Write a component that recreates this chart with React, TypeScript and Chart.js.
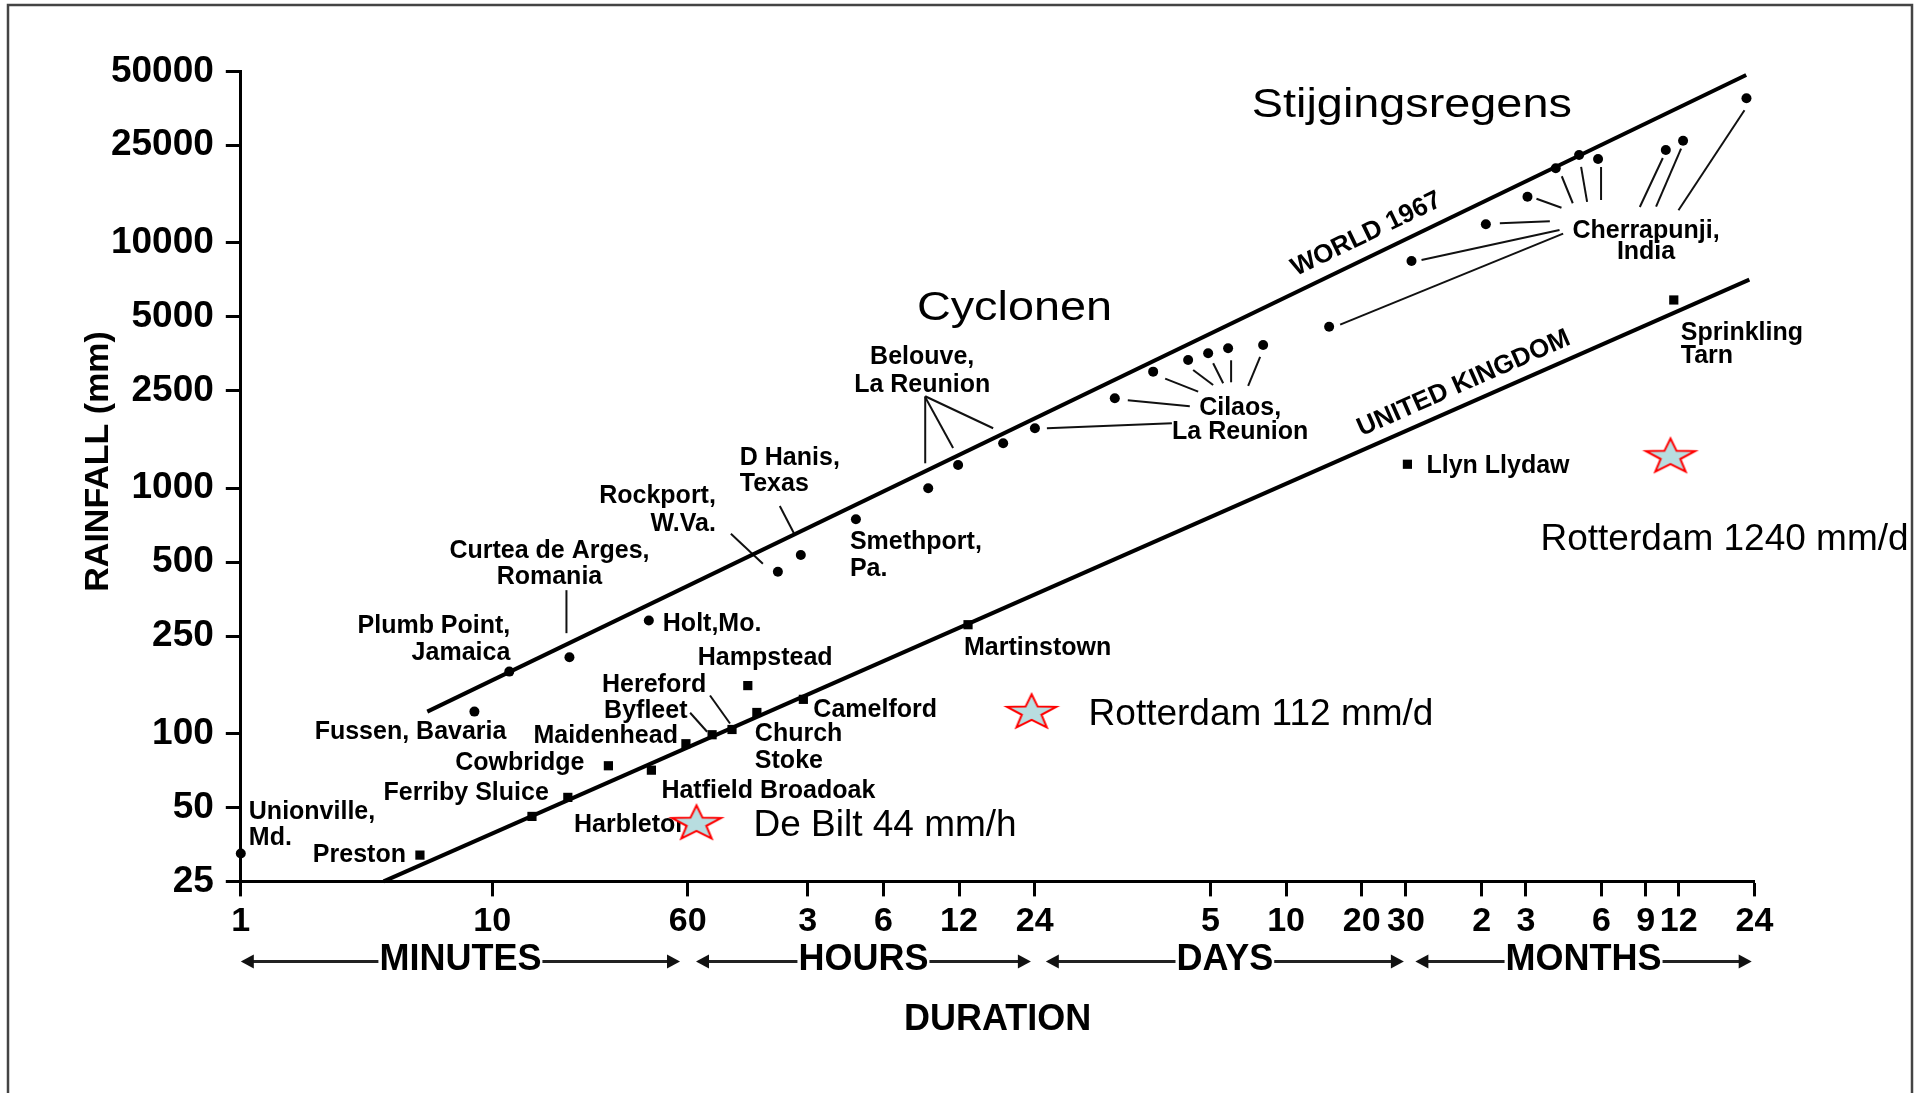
import React, { useEffect, useRef } from "react";
import { Chart, registerables } from "chart.js";

Chart.register(...registerables);

const FONT = "'Liberation Sans', Arial, Helvetica, sans-serif";

// ---------------- axis ticks ----------------
const xTickValues = [1, 10, 60, 180, 360, 720, 1440, 7200, 14400, 28800, 43200, 86400, 129600, 259200, 388800, 525600, 1051200];
const xTickLabels = ["1", "10", "60", "3", "6", "12", "24", "5", "10", "20", "30", "2", "3", "6", "9", "12", "24"];
const yTickValues = [25, 50, 100, 250, 500, 1000, 2500, 5000, 10000, 25000, 50000];
const yTickLabels = ["25", "50", "100", "250", "500", "1000", "2500", "5000", "10000", "25000", "50000"];

// ---------------- world record sites (duration in minutes, rainfall in mm) ----------------
const worldSite = [
  "Unionville, Md.", "Fussen, Bavaria", "Plumb Point, Jamaica", "Curtea de Arges, Romania", "Holt, Mo.",
  "Rockport, W.Va.", "D Hanis, Texas", "Smethport, Pa.",
  "Belouve", "Belouve", "Belouve",
  "Cilaos", "Cilaos", "Cilaos", "Cilaos", "Cilaos", "Cilaos", "Cilaos",
  "Cherrapunji", "Cherrapunji", "Cherrapunji", "Cherrapunji", "Cherrapunji",
  "Cherrapunji", "Cherrapunji", "Cherrapunji", "Cherrapunji", "Cherrapunji",
];
const worldDuration = [
  1, 8.5, 11.7, 20.3, 42, 137, 169, 280,
  543, 714, 1079,
  1443, 3000, 4263, 5873, 7055, 8470, 11675,
  21370, 45450, 89800, 131500, 170400, 211000, 251000, 466900, 546900, 977500,
];
const worldRainfall = [
  32.5, 123, 179, 205, 289, 457, 535, 748,
  1000, 1245, 1526,
  1756, 2327, 2988, 3334, 3551, 3720, 3838,
  4557, 8440, 11910, 15430, 20150, 22830, 21980, 23920, 26100, 38850,
];

// ---------------- UK record sites ----------------
const ukSite = [
  "Preston", "Harbleton", "Ferriby Sluice", "Cowbridge", "Hatfield Broadoak", "Maidenhead", "Byfleet",
  "Hereford", "Church Stoke", "Hampstead", "Camelford", "Martinstown", "Llyn Llydaw", "Sprinkling Tarn",
];
const ukDuration = [5.16, 14.4, 20, 29, 43, 59, 75, 90, 113, 104, 173, 782, 43780, 502300];
const ukRainfall = [32, 46, 55, 74, 71, 91, 99, 104, 122, 157, 138, 278, 1253, 5854];

// ---------------- envelope lines ----------------
const envelopeNames = ["WORLD 1967", "UNITED KINGDOM"];
const worldEnvelopeDuration = [5.52, 974900];
const worldEnvelopeRainfall = [123, 48340];
const ukEnvelopeDuration = [3.7, 1003700];
const ukEnvelopeRainfall = [25, 7088];
const envelopeLabelAt = [30040, 73380];

// ---------------- Dutch records (stars) ----------------
const dutchNames = ["De Bilt 44 mm/h", "Rotterdam 112 mm/d", "Rotterdam 1240 mm/d"];
const dutchDuration = [65, 1400, 487300];
const dutchRainfall = [43, 122, 1345];

// ---------------- regime annotations ----------------
const regimeNames = ["Cyclonen", "Stijgingsregens"];
const regimeDuration = [489.5, 10527];
const regimeRainfall = [4853, 32690];

// ---------------- duration bands ----------------
const bandNames = ["MINUTES", "HOURS", "DAYS", "MONTHS"];
const bandFrom = [1, 64.7, 1595, 47100];
const bandTo = [55.9, 1391, 42380, 1025600];

// ---------------- label layout (offsets in px from the anchor point) ----------------
type Series = "world" | "uk";
const siteLabels: { lines: string[]; s: Series; i: number; dx: number; dy: number; align: CanvasTextAlign; gap?: number }[] = [
  { lines: ["Unionville,", "Md."], s: "world", i: 0, dx: 8, dy: -41, align: "left", gap: 26 },
  { lines: ["Fussen, Bavaria"], s: "world", i: 1, dx: 32, dy: 21, align: "right" },
  { lines: ["Plumb Point,", "Jamaica"], s: "world", i: 2, dx: 1, dy: -46, align: "right", gap: 27 },
  { lines: ["Curtea de Arges,", "Romania"], s: "world", i: 3, dx: -20, dy: -106, align: "center", gap: 26 },
  { lines: ["Holt,Mo."], s: "world", i: 4, dx: 14, dy: 4, align: "left" },
  { lines: ["Rockport,", "W.Va."], s: "world", i: 5, dx: -62, dy: -76, align: "right", gap: 28 },
  { lines: ["D Hanis,", "Texas"], s: "world", i: 6, dx: -61, dy: -97, align: "left", gap: 26 },
  { lines: ["Smethport,", "Pa."], s: "world", i: 7, dx: -6, dy: 23, align: "left", gap: 27 },
  { lines: ["Belouve,", "La Reunion"], s: "world", i: 8, dx: -6, dy: -131, align: "center", gap: 28 },
  { lines: ["Cilaos,", "La Reunion"], s: "world", i: 14, dx: 52, dy: 48, align: "center", gap: 24 },
  { lines: ["Cherrapunji,", "India"], s: "world", i: 24, dx: 48, dy: 72, align: "center", gap: 21 },
  { lines: ["Preston"], s: "uk", i: 0, dx: -14, dy: 0, align: "right" },
  { lines: ["Harbleton"], s: "uk", i: 1, dx: 42, dy: 9, align: "left" },
  { lines: ["Ferriby Sluice"], s: "uk", i: 2, dx: -19, dy: -4, align: "right" },
  { lines: ["Cowbridge"], s: "uk", i: 3, dx: -24, dy: -3, align: "right" },
  { lines: ["Hatfield Broadoak"], s: "uk", i: 4, dx: 10, dy: 21, align: "left" },
  { lines: ["Maidenhead"], s: "uk", i: 5, dx: -8, dy: -8, align: "right" },
  { lines: ["Byfleet"], s: "uk", i: 6, dx: -108, dy: -24, align: "left" },
  { lines: ["Hereford"], s: "uk", i: 7, dx: -130, dy: -44, align: "left" },
  { lines: ["Church", "Stoke"], s: "uk", i: 8, dx: -2, dy: 22, align: "left", gap: 27 },
  { lines: ["Hampstead"], s: "uk", i: 9, dx: -50, dy: -27, align: "left" },
  { lines: ["Camelford"], s: "uk", i: 10, dx: 10, dy: 11, align: "left" },
  { lines: ["Martinstown"], s: "uk", i: 11, dx: -4, dy: 23, align: "left" },
  { lines: ["Llyn Llydaw"], s: "uk", i: 12, dx: 19, dy: 2, align: "left" },
  { lines: ["Sprinkling", "Tarn"], s: "uk", i: 13, dx: 7, dy: 33, align: "left", gap: 23 },
];

const leaders: { s: Series; i: number; x1: number; y1: number; x2: number; y2: number }[] = [
  { s: "world", i: 3, x1: -3, y1: -67, x2: -3, y2: -24 },
  { s: "world", i: 5, x1: -47, y1: -38, x2: -15, y2: -8 },
  { s: "world", i: 6, x1: -21, y1: -49, x2: -7, y2: -22 },
  { s: "world", i: 8, x1: -3, y1: -92, x2: -3, y2: -25 },
  { s: "world", i: 9, x1: -33, y1: -68, x2: -5, y2: -17 },
  { s: "world", i: 10, x1: -78, y1: -47, x2: -10, y2: -15 },
  { s: "world", i: 11, x1: 12, y1: 0, x2: 137, y2: -5 },
  { s: "world", i: 12, x1: 13, y1: 2, x2: 75, y2: 8 },
  { s: "world", i: 13, x1: 12, y1: 7, x2: 45, y2: 20 },
  { s: "world", i: 14, x1: 5, y1: 10, x2: 25, y2: 25 },
  { s: "world", i: 15, x1: 5, y1: 10, x2: 15, y2: 30 },
  { s: "world", i: 16, x1: 3, y1: 12, x2: 3, y2: 34 },
  { s: "world", i: 17, x1: -3, y1: 12, x2: -15, y2: 41 },
  { s: "world", i: 18, x1: 11, y1: -2, x2: 234, y2: -93 },
  { s: "world", i: 19, x1: 10, y1: -1, x2: 148, y2: -31 },
  { s: "world", i: 20, x1: 14, y1: -1, x2: 64, y2: -3 },
  { s: "world", i: 21, x1: 9, y1: 2, x2: 34, y2: 11 },
  { s: "world", i: 22, x1: 6, y1: 8, x2: 17, y2: 35 },
  { s: "world", i: 23, x1: 2, y1: 12, x2: 8, y2: 47 },
  { s: "world", i: 24, x1: 3, y1: 8, x2: 3, y2: 41 },
  { s: "world", i: 25, x1: -3, y1: 8, x2: -26, y2: 57 },
  { s: "world", i: 26, x1: -2, y1: 8, x2: -27, y2: 66 },
  { s: "world", i: 27, x1: -2, y1: 12, x2: -68, y2: 112 },
  { s: "uk", i: 6, x1: -22, y1: -22, x2: -5, y2: -3 },
  { s: "uk", i: 7, x1: -22, y1: -34, x2: -2, y2: -6 },
];

const dutchLabelOffset = [
  { dx: 57, dy: 12.6 },
  { dx: 57, dy: 12.7 },
  { dx: -130, dy: 93 },
];

function makeStar(): HTMLCanvasElement {
  const R = 18.3;
  const r = R * 0.4;
  const sx = 1.41;
  const lw = 2;
  const w = Math.ceil(2 * R * sx + 6);
  const h = Math.ceil(2 * R + 6);
  const c = document.createElement("canvas");
  c.width = w;
  c.height = h;
  const ctx = c.getContext("2d")!;
  ctx.translate(w / 2, h / 2);
  ctx.beginPath();
  for (let k = 0; k < 10; k++) {
    const rad = k % 2 === 0 ? R : r;
    const a = -Math.PI / 2 + (k * Math.PI) / 5;
    const px = rad * Math.cos(a) * sx;
    const py = rad * Math.sin(a);
    if (k === 0) ctx.moveTo(px, py);
    else ctx.lineTo(px, py);
  }
  ctx.closePath();
  ctx.fillStyle = "#b8dde0";
  ctx.fill();
  ctx.strokeStyle = "#ff0000";
  ctx.lineWidth = lw;
  ctx.lineJoin = "miter";
  ctx.stroke();
  return c;
}

function pointPx(chart: any, s: Series, i: number): [number, number] {
  const xs = s === "world" ? worldDuration : ukDuration;
  const ys = s === "world" ? worldRainfall : ukRainfall;
  return [chart.scales.x.getPixelForValue(xs[i]), chart.scales.y.getPixelForValue(ys[i])];
}

const annotationPlugin = {
  id: "rainfallAnnotations",
  beforeDraw(chart: any) {
    const ctx = chart.ctx;
    ctx.save();
    ctx.strokeStyle = "#444";
    ctx.lineWidth = 2.5;
    ctx.beginPath();
    ctx.moveTo(8, chart.height);
    ctx.lineTo(8, 5);
    ctx.lineTo(1912, 5);
    ctx.lineTo(1912, chart.height);
    ctx.stroke();
    ctx.restore();
  },
  beforeDatasetsDraw(chart: any) {
    const ctx = chart.ctx;
    ctx.save();
    ctx.strokeStyle = "#111";
    ctx.lineWidth = 2;
    leaders.forEach((l) => {
      const [px, py] = pointPx(chart, l.s, l.i);
      ctx.beginPath();
      ctx.moveTo(px + l.x1, py + l.y1);
      ctx.lineTo(px + l.x2, py + l.y2);
      ctx.stroke();
    });
    ctx.fillStyle = "#000";
    ctx.font = `bold 25px ${FONT}`;
    ctx.textBaseline = "middle";
    siteLabels.forEach((lab) => {
      const [px, py] = pointPx(chart, lab.s, lab.i);
      ctx.textAlign = lab.align;
      lab.lines.forEach((t, k) => ctx.fillText(t, px + lab.dx, py + lab.dy + k * (lab.gap || 26)));
    });
    ctx.restore();
  },
  afterDatasetsDraw(chart: any) {
    const ctx = chart.ctx;
    const xs = chart.scales.x;
    const ys = chart.scales.y;
    ctx.save();
    const env = [
      [worldEnvelopeDuration, worldEnvelopeRainfall],
      [ukEnvelopeDuration, ukEnvelopeRainfall],
    ];
    const lifts = [24, 22];
    ctx.font = `bold 26px ${FONT}`;
    ctx.fillStyle = "#000";
    ctx.textAlign = "center";
    ctx.textBaseline = "middle";
    env.forEach(([dx, dy], k) => {
      const x1 = xs.getPixelForValue(dx[0]);
      const y1 = ys.getPixelForValue(dy[0]);
      const x2 = xs.getPixelForValue(dx[1]);
      const y2 = ys.getPixelForValue(dy[1]);
      const px = xs.getPixelForValue(envelopeLabelAt[k]);
      const t = (px - x1) / (x2 - x1);
      const py = y1 + t * (y2 - y1);
      const ang = Math.atan2(y2 - y1, x2 - x1);
      ctx.save();
      ctx.translate(px, py - lifts[k]);
      ctx.rotate(ang);
      ctx.fillText(envelopeNames[k], 0, 0);
      ctx.restore();
    });
    ctx.font = `40px ${FONT}`;
    ctx.textAlign = "left";
    ctx.textBaseline = "alphabetic";
    regimeNames.forEach((name, k) => {
      const px = xs.getPixelForValue(regimeDuration[k]);
      const py = ys.getPixelForValue(regimeRainfall[k]);
      ctx.save();
      ctx.translate(px, py);
      ctx.scale(1.17, 1);
      ctx.fillText(name, 0, 0);
      ctx.restore();
    });
    ctx.font = `37px ${FONT}`;
    dutchNames.forEach((name, k) => {
      const px = xs.getPixelForValue(dutchDuration[k]);
      const py = ys.getPixelForValue(dutchRainfall[k]);
      ctx.fillText(name, px + dutchLabelOffset[k].dx, py + dutchLabelOffset[k].dy);
    });
    ctx.restore();
  },
  afterDraw(chart: any) {
    const ctx = chart.ctx;
    const xs = chart.scales.x;
    const area = chart.chartArea;
    ctx.save();
    const yLine = area.bottom + 80;
    const yText = area.bottom + 79;
    ctx.font = `bold 36px ${FONT}`;
    ctx.textAlign = "center";
    ctx.textBaseline = "middle";
    bandNames.forEach((name, k) => {
      const a = xs.getPixelForValue(bandFrom[k]);
      const b = xs.getPixelForValue(bandTo[k]);
      const mid = (a + b) / 2;
      const tw = ctx.measureText(name).width;
      ctx.strokeStyle = "#222";
      ctx.lineWidth = 3;
      ctx.beginPath();
      ctx.moveTo(a + 6, yLine);
      ctx.lineTo(mid - tw / 2 - 1, yLine);
      ctx.moveTo(mid + tw / 2 + 1, yLine);
      ctx.lineTo(b - 6, yLine);
      ctx.stroke();
      ctx.fillStyle = "#111";
      ctx.beginPath();
      ctx.moveTo(a, yLine);
      ctx.lineTo(a + 13, yLine - 7);
      ctx.lineTo(a + 13, yLine + 7);
      ctx.closePath();
      ctx.fill();
      ctx.beginPath();
      ctx.moveTo(b, yLine);
      ctx.lineTo(b - 13, yLine - 7);
      ctx.lineTo(b - 13, yLine + 7);
      ctx.closePath();
      ctx.fill();
      ctx.fillStyle = "#000";
      ctx.fillText(name, mid, yText);
    });
    ctx.save();
    ctx.translate(area.left - 142, area.top + 390);
    ctx.rotate(-Math.PI / 2);
    ctx.font = `bold 34px ${FONT}`;
    ctx.fillStyle = "#000";
    ctx.textAlign = "center";
    ctx.textBaseline = "middle";
    ctx.fillText("RAINFALL (mm)", 0, 0);
    ctx.restore();
    ctx.restore();
  },
};

export default function App() {
  const ref = useRef<HTMLCanvasElement>(null);

  useEffect(() => {
    const canvas = ref.current;
    if (!canvas) return;
    const star = makeStar();
    const chart = new Chart(canvas, {
      type: "scatter",
      data: {
        datasets: [
          {
            label: "Dutch records",
            data: dutchDuration.map((x, k) => ({ x, y: dutchRainfall[k] })),
            pointStyle: star as any,
            pointRadius: 18,
            clip: false,
            order: 0,
          } as any,
          {
            label: "World records",
            data: worldDuration.map((x, k) => ({ x, y: worldRainfall[k], site: worldSite[k] })),
            pointStyle: "circle",
            pointRadius: 5,
            backgroundColor: "#000",
            borderColor: "#000",
            borderWidth: 0,
            clip: false,
            order: 1,
          },
          {
            label: "UK records",
            data: ukDuration.map((x, k) => ({ x, y: ukRainfall[k], site: ukSite[k] })),
            pointStyle: "rect",
            pointRadius: 6.5,
            backgroundColor: "#000",
            borderColor: "#000",
            borderWidth: 0,
            clip: false,
            order: 1,
          },
          {
            label: envelopeNames[0],
            data: worldEnvelopeDuration.map((x, k) => ({ x, y: worldEnvelopeRainfall[k] })),
            showLine: true,
            borderColor: "#000",
            borderWidth: 4,
            pointRadius: 0,
            clip: false,
            order: 2,
          },
          {
            label: envelopeNames[1],
            data: ukEnvelopeDuration.map((x, k) => ({ x, y: ukEnvelopeRainfall[k] })),
            showLine: true,
            borderColor: "#000",
            borderWidth: 4,
            pointRadius: 0,
            clip: false,
            order: 2,
          },
        ],
      },
      options: {
        responsive: false,
        animation: false,
        events: [],
        layout: { padding: { left: 0, top: 71.4, right: 170.6, bottom: 0 } },
        plugins: {
          legend: { display: false },
          tooltip: { enabled: false },
          title: { display: false },
        },
        scales: {
          x: {
            type: "logarithmic",
            position: "bottom",
            min: 1,
            max: 1051200,
            afterBuildTicks: (s: any) => {
              s.ticks = xTickValues.map((v) => ({ value: v }));
            },
            afterFit: (s: any) => {
              s.height = 211.6;
            },
            ticks: {
              autoSkip: false,
              maxRotation: 0,
              minRotation: 0,
              padding: 5,
              color: "#000",
              font: { family: FONT, size: 34, weight: "bold" },
              callback: (_v: any, i: number) => xTickLabels[i],
            },
            grid: { drawOnChartArea: false, drawTicks: true, tickLength: 15, tickWidth: 3, tickColor: "#000" },
            border: { display: true, color: "#000", width: 3 },
            title: {
              display: true,
              text: "DURATION",
              color: "#000",
              font: { family: FONT, size: 36, weight: "bold" },
              padding: { top: 0, bottom: 51 },
            },
          } as any,
          y: {
            type: "logarithmic",
            position: "left",
            min: 25,
            max: 50000,
            afterBuildTicks: (s: any) => {
              s.ticks = yTickValues.map((v) => ({ value: v }));
            },
            afterFit: (s: any) => {
              s.width = 240.8;
            },
            ticks: {
              autoSkip: false,
              padding: 12,
              color: "#000",
              font: { family: FONT, size: 37, weight: "bold" },
              callback: (_v: any, i: number) => yTickLabels[i],
            },
            grid: { drawOnChartArea: false, drawTicks: true, tickLength: 15, tickWidth: 3, tickColor: "#000" },
            border: { display: true, color: "#000", width: 3 },
          } as any,
        },
      },
      plugins: [annotationPlugin as any],
    });
    return () => chart.destroy();
  }, []);

  return (
    <div style={{ position: "fixed", left: 0, top: 0, width: 1925, height: 1093, background: "#fff" }}>
      <canvas ref={ref} width={1925} height={1093} style={{ display: "block", width: 1925, height: 1093 }} />
    </div>
  );
}
